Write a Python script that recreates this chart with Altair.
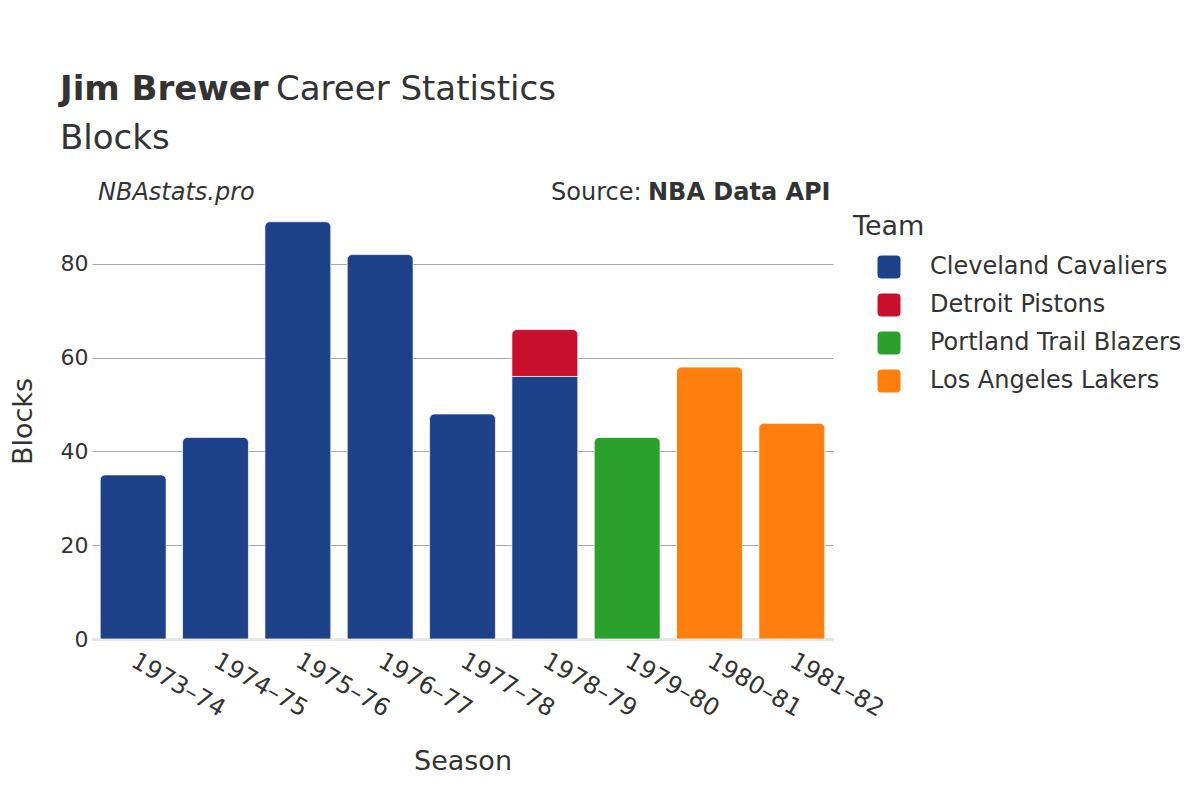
import altair as alt
import pandas as pd

# ---- data ----
seasons = ["1973–74", "1974–75", "1975–76", "1976–77", "1977–78",
           "1978–79", "1978–79", "1979–80", "1980–81", "1981–82"]
teams = ["Cleveland Cavaliers", "Cleveland Cavaliers", "Cleveland Cavaliers",
         "Cleveland Cavaliers", "Cleveland Cavaliers", "Cleveland Cavaliers",
         "Detroit Pistons", "Portland Trail Blazers", "Los Angeles Lakers",
         "Los Angeles Lakers"]
blocks = [35, 43, 89, 82, 48, 56, 10, 43, 58, 46]

season_order = ["1973–74", "1974–75", "1975–76", "1976–77", "1977–78",
                "1978–79", "1979–80", "1980–81", "1981–82"]
team_order = ["Cleveland Cavaliers", "Detroit Pistons",
              "Portland Trail Blazers", "Los Angeles Lakers"]
team_colors = ["#1d428a", "#c8102e", "#2ca02c", "#ff7f0e"]

df = pd.DataFrame({"Season": seasons, "Team": teams, "Blocks": blocks})
df["end"] = df.groupby("Season")["Blocks"].cumsum()
df["start"] = df["end"] - df["Blocks"]
df["is_top"] = ~df.duplicated("Season", keep="last")

TXT = "#333333"
FONT = "DejaVu Sans"

x_enc = alt.X("Season:N", sort=season_order, title="Season",
              scale=alt.Scale(paddingInner=0.2, paddingOuter=0.1),
              axis=alt.Axis(labelAngle=30, labelAlign="left", labelBaseline="middle",
                            labelFontSize=24, labelPadding=20, titleFontSize=27,
                            titlePadding=27, ticks=False, domainColor="#e6e6e6",
                            domainWidth=3, labelColor=TXT, titleColor=TXT,
                            titleFontWeight="normal", grid=False))
y_enc = alt.Y("start:Q", title="Blocks",
              scale=alt.Scale(domain=[0, 93], nice=False),
              axis=alt.Axis(values=[0, 20, 40, 60, 80], labelFontSize=22,
                            labelPadding=4, titleFontSize=27, titlePadding=23,
                            domain=False, ticks=False, gridColor="#aaaaaa",
                            gridWidth=1, labelColor=TXT, titleColor=TXT,
                            titleFontWeight="normal"))
color_enc = alt.Color("Team:N", sort=team_order,
                      scale=alt.Scale(domain=team_order, range=team_colors),
                      legend=alt.Legend(title="Team", orient="none", legendX=761,
                                        legendY=11, titleFontSize=27,
                                        labelFontSize=24, titleColor=TXT,
                                        labelColor=TXT, titleFontWeight="normal",
                                        labelLimit=0,
                                        symbolType="M -0.65 -1 L 0.65 -1 Q 1 -1 1 -0.65 L 1 0.65 Q 1 1 0.65 1 L -0.65 1 Q -1 1 -1 0.65 L -1 -0.65 Q -1 -1 -0.65 -1 Z",
                                        symbolSize=529, symbolOpacity=1,
                                        symbolStrokeWidth=0, symbolOffset=24,
                                        labelOffset=29, rowPadding=14,
                                        titlePadding=14))

base = alt.Chart(df).encode(x=x_enc, y=y_enc, y2="end:Q", color=color_enc)

bars_low = base.transform_filter("!datum.is_top").mark_bar(
    stroke="white", strokeWidth=1, strokeOpacity=0.7)
bars_top = base.transform_filter("datum.is_top").mark_bar(
    cornerRadiusTopLeft=5, cornerRadiusTopRight=5,
    stroke="white", strokeWidth=1, strokeOpacity=0.7)


def txt(s, x, y, size, weight="normal", style="normal", align="left"):
    return alt.Chart(pd.DataFrame({"t": [s]})).mark_text(
        font=FONT, fontSize=size, fontWeight=weight, fontStyle=style,
        align=align, baseline="alphabetic", color=TXT
    ).encode(text="t:N", x=alt.value(x), y=alt.value(y))


title_bold = txt("Jim Brewer", -32, -103, 34, weight="bold")
title_reg = txt("Career Statistics", 184, -103, 34)
subtitle = txt("Blocks", -32, -54, 34)
brand = txt("NBAstats.pro", 6, -3, 24, style="italic")
src_reg = txt("Source:", 459, -3, 24)
src_bold = txt("NBA Data API", 556, -3, 24, weight="bold")

chart = alt.layer(bars_low, bars_top, title_bold, title_reg, subtitle,
                  brand, src_reg, src_bold).properties(
    width=741, height=436,
    autosize=alt.AutoSizeParams(type="none"),
    padding={"left": 84, "top": 195, "right": 355, "bottom": 140},
    background="white",
).configure(font=FONT).configure_view(strokeWidth=0, stroke="transparent")

chart.save("out.html", embed_options={"renderer": "svg", "actions": False})
